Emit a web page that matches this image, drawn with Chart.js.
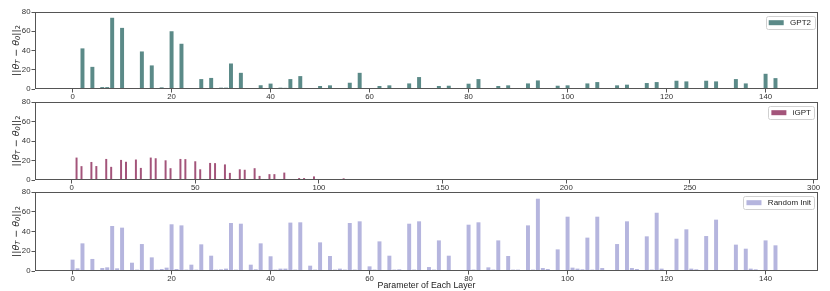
<!DOCTYPE html>
<html>
<head>
<meta charset="utf-8">
<script src="https://cdn.jsdelivr.net/npm/chart.js@4.4.1/dist/chart.umd.min.js"></script>
<style>
    html, body { margin: 0; padding: 0; background: #fff; }
    #wrap { position: relative; width: 830px; height: 291px; overflow: hidden; }
    .panel { position: absolute; left: 0; width: 830px; }
</style>
</head>
<body>
<div id="wrap">
    <div class="panel" style="top:0;height:104px"><canvas id="gpt2Chart"></canvas></div>
    <div class="panel" style="top:90px;height:105px"><canvas id="igptChart"></canvas></div>
    <div class="panel" style="top:180px;height:111px"><canvas id="randomChart"></canvas></div>
</div>
<script>
// values, one per parameter index
const gpt2Values = [
    0, 0, 42.2, 1, 23, 1, 2, 2, 74, 0.7, 63.5, 0,
    0.3, 0, 39, 0.3, 24.5, 0, 1.7, 0.3, 60, 0.3, 47, 0,
    0.7, 0, 10.3, 0, 11.5, 0, 1.4, 1.4, 26.5, 0.7, 16.8, 0,
    0.3, 0, 3.9, 0, 5.6, 0, 1.4, 1.2, 10.3, 0, 13.4, 0,
    0, 0, 3.1, 0, 3.8, 0, 0.3, 0, 6.5, 0, 16.8, 0,
    0, 0, 3.1, 0, 3.8, 0, 0.3, 0, 5.8, 0, 12.4, 0,
    0, 0, 3.1, 0, 3.4, 0, 0.3, 0, 5.5, 0, 10.3, 0,
    0, 0, 3.1, 0, 3.8, 0, 0.3, 0, 5.8, 0, 8.9, 0,
    0, 0, 3.4, 0, 3.8, 0, 0.3, 0, 5.8, 0, 7.2, 0,
    0, 0, 3.8, 0, 4.5, 0, 0.3, 0, 6.2, 0, 7.2, 0,
    1, 0, 8.6, 0, 7.9, 0, 0.3, 0, 8.6, 0, 7.9, 0,
    0.3, 0, 10.3, 0, 5.8, 0, 1, 0, 15.8, 0, 11.3, 0
];

const igptValues = [
    0, 0, 23, 0, 14.2, 0, 0, 0, 18.5, 0.7, 14.3, 0,
    0, 0, 21.6, 0, 13.5, 0, 0, 0, 20.6, 0, 18.7, 0,
    0, 0, 21, 0, 12.4, 0, 0, 0, 23, 0, 22.3, 0,
    0, 0, 20.2, 0, 12.1, 0, 0, 0, 21.6, 0, 21.4, 0,
    0, 0, 19.2, 0, 11, 0, 0, 0, 17.5, 0, 17.3, 0,
    0, 0, 16, 0, 7.3, 0, 0, 0, 11, 0, 10.5, 0,
    0, 0, 12.1, 0, 4.2, 0, 0, 0, 6, 0, 6, 0,
    0, 0, 7.6, 0, 1, 0, 0, 0, 2, 0, 2, 0,
    0, 0, 3.7, 0, 0.7, 0, 0, 0, 0.3, 0, 0.3, 0,
    0, 0, 1.7, 0
];

const randomValues = [
    11.5, 2.7, 28, 0, 12.2, 1, 3, 3.7, 45.6, 2.7, 43.9, 0,
    8.4, 1.4, 27.3, 0, 13.8, 1.4, 2, 3.4, 47.3, 2, 46.2, 1.4,
    6.4, 1.4, 27, 0, 15.5, 1.4, 1.7, 2.4, 48.6, 1.4, 47.9, 0,
    6.4, 1.7, 28, 0, 14.9, 1.4, 2.4, 2.4, 49, 1.4, 49.3, 0,
    5.4, 1.4, 29, 0, 15.2, 1.4, 2.4, 1.4, 48.6, 1.4, 50.3, 0,
    4.7, 1.4, 30, 0, 15.5, 1.4, 1.7, 0, 47.9, 1.4, 50.3, 0,
    4, 1.4, 31, 0, 15.5, 1, 1, 0, 46.9, 1.4, 49.3, 0,
    3.7, 1.4, 31, 0, 15.2, 1.4, 1.4, 0, 46.2, 1.4, 73.2, 3,
    2, 0, 21.9, 0, 55, 3.4, 2.4, 1.7, 33.8, 1.4, 55, 3,
    1, 0, 27.3, 0, 50.3, 3, 2, 0, 35.1, 1.4, 59, 2.4,
    1, 0, 32.7, 0, 42.2, 2.4, 1.7, 0, 35.4, 1, 52, 0,
    0, 0, 26.7, 0, 22.6, 2.4, 1.7, 0, 31, 1, 26, 0
];

const yTicks = [0, 20, 40, 60, 80];
const layerTicks = [0, 20, 40, 60, 80, 100, 120, 140];
const igptTicks = [0, 50, 100, 150, 200, 250, 300];

const tickFont = { family: 'Liberation Sans, Arial, sans-serif', size: 7.8 };
const spineColor = '#555';

// box around the plot area, like matplotlib spines
const framePlugin = {
    id: 'frame',
    afterDatasetsDraw(chart) {
        const { ctx, chartArea: a } = chart;
        ctx.save();
        ctx.strokeStyle = spineColor;
        ctx.lineWidth = 1;
        ctx.strokeRect(Math.round(a.left) + 0.5, Math.round(a.top) + 0.5,
            Math.round(a.right - a.left) - 1, Math.round(a.bottom - a.top) - 1);
        ctx.restore();
    }
};

// y label with subscripts: ||θ_T − θ_0||_2
const yLabelPlugin = {
    id: 'ylabel',
    afterDraw(chart) {
        const { ctx, chartArea: a } = chart;
        const size = 9.5;
        const parts = [
            ['||', false, false], ['θ', true, false], ['T', true, true],
            [' − ', false, false], ['θ', true, false], ['0', true, true],
            ['||', false, false], ['2', false, true]
        ];
        const fontFor = (it, sub) => (it ? 'italic ' : '') + (sub ? size * 0.7 : size) + 'px "DejaVu Sans", sans-serif';
        let total = 0;
        parts.forEach(p => { ctx.font = fontFor(p[1], p[2]); total += ctx.measureText(p[0]).width; });
        ctx.save();
        ctx.translate(15.5, (a.top + a.bottom) / 2);
        ctx.rotate(-Math.PI / 2);
        ctx.fillStyle = '#222';
        ctx.textBaseline = 'alphabetic';
        let x = -total / 2;
        parts.forEach(p => {
            ctx.font = fontFor(p[1], p[2]);
            ctx.fillText(p[0], x, p[2] ? 4.5 : 3.2);
            x += ctx.measureText(p[0]).width;
        });
        ctx.restore();
    }
};

// legend box in the upper right corner of the plot
const legendBoxPlugin = {
    id: 'legendBox',
    afterDraw(chart, args, opts) {
        const { ctx, chartArea: a } = chart;
        ctx.save();
        ctx.font = '8px "Liberation Sans", Arial, sans-serif';
        const tw = ctx.measureText(opts.label).width;
        const right = a.right - 3.7, top = a.top + 4, h = 13;
        const left = right - 3.3 - tw - 6.4 - 15 - 3;
        ctx.fillStyle = 'rgba(255,255,255,0.85)';
        ctx.strokeStyle = '#d0d0d0';
        ctx.lineWidth = 1;
        ctx.beginPath();
        ctx.roundRect(Math.round(left) + 0.5, Math.round(top) + 0.5, Math.round(right - left), h, 2);
        ctx.fill();
        ctx.stroke();
        ctx.fillStyle = opts.color;
        ctx.fillRect(left + 3, top + h / 2 - 2.3, 15, 5);
        ctx.fillStyle = '#222';
        ctx.textBaseline = 'middle';
        ctx.fillText(opts.label, left + 3 + 15 + 6.4, top + h / 2 + 0.5);
        ctx.restore();
    }
};

function makeChart(id, values, label, color, xMin, xMax, xTickList, xHeight, xTitle) {
    const ctx = document.getElementById(id).getContext('2d');
    return new Chart(ctx, {
        type: 'bar',
        data: {
            datasets: [{
                label: label,
                data: values.map((v, i) => ({ x: i, y: v })),
                backgroundColor: color,
                borderWidth: 0,
                barPercentage: 0.8,
                categoryPercentage: 1.0
            }]
        },
        plugins: [framePlugin, yLabelPlugin, legendBoxPlugin],
        options: {
            responsive: true,
            maintainAspectRatio: false,
            animation: false,
            layout: { padding: { top: 12, right: 12, left: 0, bottom: 0 } },
            plugins: {
                legend: { display: false },
                tooltip: { enabled: false },
                legendBox: { label: label, color: color }
            },
            scales: {
                x: {
                    type: 'linear',
                    offset: false,
                    min: xMin,
                    max: xMax,
                    afterBuildTicks: axis => { axis.ticks = xTickList.map(v => ({ value: v })); },
                    afterFit: axis => { axis.height = xHeight; },
                    grid: { display: true, offset: false, drawOnChartArea: false, tickLength: 3.5, tickColor: spineColor, tickWidth: 1 },
                    border: { display: false },
                    ticks: { font: tickFont, color: '#333', padding: 0, maxRotation: 0, autoSkip: false },
                    title: xTitle ? {
                        display: true, text: xTitle, color: '#222',
                        font: { family: 'Liberation Sans, Arial, sans-serif', size: 8.8 },
                        padding: { top: 0, bottom: 0 }
                    } : { display: false }
                },
                y: {
                    min: 0,
                    max: 80,
                    afterBuildTicks: axis => { axis.ticks = yTicks.map(v => ({ value: v })); },
                    afterFit: axis => { axis.width = 35; },
                    grid: { display: true, drawOnChartArea: false, tickLength: 3.5, tickColor: spineColor, tickWidth: 1 },
                    border: { display: false },
                    ticks: { font: tickFont, color: '#333', padding: 1 }
                }
            }
        }
    });
}

makeChart('gpt2Chart', gpt2Values, 'GPT2', '#5b8a88', -7.59, 150.59, layerTicks, 15, null);
makeChart('igptChart', igptValues, 'iGPT', '#a3547a', -14.8, 301.8, igptTicks, 15, null);
makeChart('randomChart', randomValues, 'Random Init', '#b5b5de', -7.59, 150.59, layerTicks, 20, 'Parameter of Each Layer');
</script>
</body>
</html>
